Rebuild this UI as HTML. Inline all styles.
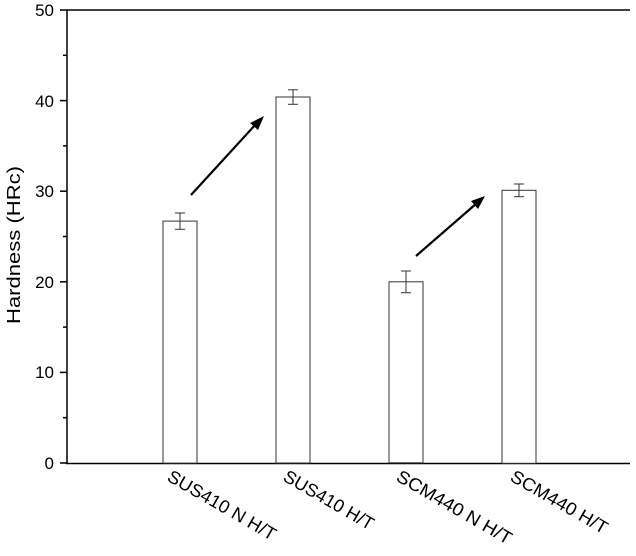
<!DOCTYPE html><html><head><style>body{margin:0;background:#fff}svg{display:block}text{font-family:"Liberation Sans",Arial,sans-serif;fill:#000}</style></head><body>
<svg width="636" height="556" viewBox="0 0 636 556" xmlns="http://www.w3.org/2000/svg">
<g stroke="#000" stroke-width="1.5" fill="none">
<line x1="67" y1="10" x2="67" y2="463.5"/>
<line x1="66" y1="463.5" x2="630" y2="463.5"/>
<line x1="60" y1="10" x2="67" y2="10"/><line x1="60" y1="100.6" x2="67" y2="100.6"/><line x1="60" y1="191.2" x2="67" y2="191.2"/><line x1="60" y1="281.8" x2="67" y2="281.8"/><line x1="60" y1="372.4" x2="67" y2="372.4"/><line x1="60" y1="463" x2="67" y2="463"/>
<line x1="63" y1="55.3" x2="67" y2="55.3"/><line x1="63" y1="145.9" x2="67" y2="145.9"/><line x1="63" y1="236.5" x2="67" y2="236.5"/><line x1="63" y1="327.1" x2="67" y2="327.1"/><line x1="63" y1="417.7" x2="67" y2="417.7"/>
</g>
<line x1="67" y1="10" x2="630" y2="10" stroke="#000" stroke-width="1.5"/>
<g stroke="#333" stroke-width="1" fill="#fff">
<rect x="163" y="221.1" width="34" height="242"/>
<rect x="276" y="97" width="34" height="366"/>
<rect x="389" y="281.8" width="34" height="181"/>
<rect x="502" y="190.3" width="34" height="273"/>
</g>
<g stroke="#333" stroke-width="1">
<line x1="180" y1="213" x2="180" y2="229.3"/><line x1="175" y1="213" x2="185" y2="213"/><line x1="175" y1="229.3" x2="185" y2="229.3"/>
<line x1="293" y1="89.8" x2="293" y2="104.3"/><line x1="288" y1="89.8" x2="298" y2="89.8"/><line x1="288" y1="104.3" x2="298" y2="104.3"/>
<line x1="406" y1="271" x2="406" y2="292.7"/><line x1="401" y1="271" x2="411" y2="271"/><line x1="401" y1="292.7" x2="411" y2="292.7"/>
<line x1="519" y1="184" x2="519" y2="196.7"/><line x1="514" y1="184" x2="524" y2="184"/><line x1="514" y1="196.7" x2="524" y2="196.7"/>
</g>
<g stroke="#000" stroke-width="2.2">
<line x1="191" y1="195" x2="256" y2="124"/>
<line x1="416" y1="256" x2="477" y2="203"/>
</g>
<polygon points="264,116 250,123 258,130" fill="#000"/>
<polygon points="485,196 471,201 478,209" fill="#000"/>
<g font-size="17" text-anchor="end">
<text x="54" y="16">50</text><text x="54" y="107">40</text><text x="54" y="197">30</text><text x="54" y="288">20</text><text x="54" y="378">10</text><text x="54" y="469">0</text>
</g>
<text transform="translate(20,245) rotate(-90)" font-size="18" text-anchor="middle" textLength="158" lengthAdjust="spacingAndGlyphs">Hardness (HRc)</text>
<g font-size="18">
<text transform="translate(166,480) rotate(30)" textLength="122" lengthAdjust="spacingAndGlyphs">SUS410 N H/T</text>
<text transform="translate(282,480) rotate(30)" textLength="101" lengthAdjust="spacingAndGlyphs">SUS410 H/T</text>
<text transform="translate(395,480) rotate(30)" textLength="130" lengthAdjust="spacingAndGlyphs">SCM440 N H/T</text>
<text transform="translate(509,480) rotate(30)" textLength="109" lengthAdjust="spacingAndGlyphs">SCM440 H/T</text>
</g>
</svg></body></html>
